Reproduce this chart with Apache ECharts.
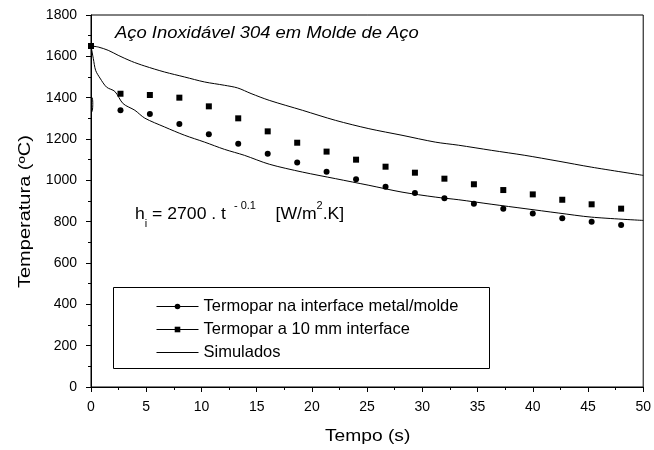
<!DOCTYPE html>
<html>
<head>
<meta charset="utf-8">
<script src="https://cdn.jsdelivr.net/npm/echarts@6/dist/echarts.min.js"></script>
<style>
  html, body { margin: 0; padding: 0; background: #fff; }
  #chart { width: 654px; height: 450px; }
</style>
</head>
<body>
<div id="chart"></div>
<script>
// measured points (s, ºC)
const measTime = [0, 2.67, 5.33, 8.0, 10.67, 13.33, 16.0, 18.67, 21.33, 24.0, 26.67, 29.33, 32.0, 34.67, 37.33, 40.0, 42.67, 45.33, 48.0]
const tempInterface = [1650, 1339, 1321, 1272, 1223, 1177, 1129, 1086, 1042, 1005, 969, 939, 913, 887, 863, 839, 816, 800, 784]
const temp10mm = [1650, 1419, 1413, 1400, 1358, 1300, 1237, 1182, 1139, 1100, 1066, 1037, 1008, 981, 953, 932, 906, 884, 863]

// simulated curves
const simTimeUpper = [0, 0.66, 1.56, 2.46, 3.66, 4.87, 6.67, 8.48, 10.28, 12.08, 13.28, 14.49, 16.14, 19.14, 22.15, 25.16, 28.16, 31.17, 33.27, 36.28, 39.28, 42.29, 45.29, 50]
const simTempUpper = [1650, 1645, 1629, 1605, 1576, 1553, 1524, 1500, 1476, 1460, 1447, 1420, 1387, 1339, 1290, 1250, 1218, 1185, 1170, 1145, 1121, 1093, 1064, 1024]
const simTimeLower = [0, 0.21, 0.42, 0.81, 1.41, 2.16, 2.91, 3.97, 4.87, 6.67, 8.48, 10.28, 12.08, 13.89, 16.14, 19.14, 22.15, 25.16, 28.16, 31.17, 33.3, 36.3, 39.3, 42.3, 45.3, 50]
const simTempLower = [1650, 1589, 1532, 1495, 1451, 1430, 1371, 1339, 1301, 1258, 1218, 1185, 1150, 1121, 1078, 1040, 1008, 976, 943, 919, 906, 884, 863, 842, 822, 806]
const simTimeStub = [0.12, 0.16, 0.14, 0.06]
const simTempStub = [1400, 1375, 1345, 1330]

const xTicks = { min: 0, max: 50, step: 5 }
const yTicks = { min: 0, max: 1800, step: 200 }

const font = 'Liberation Sans, Arial, sans-serif'
const pairs = (xs, ys) => xs.map((x, i) => [x, ys[i]])

const chart = echarts.init(document.getElementById('chart'))

const option = {
  animation: false,
  backgroundColor: '#fff',
  grid: {
    left: 91,
    right: 9,
    top: 15,
    bottom: 63,
    show: true,
    borderColor: '#000',
    borderWidth: 1
  },
  xAxis: {
    type: 'value',
    min: xTicks.min,
    max: xTicks.max,
    interval: xTicks.step,
    axisLine: { lineStyle: { color: '#000', width: 1 } },
    axisTick: { length: 5, lineStyle: { color: '#000' } },
    minorTick: { show: true, splitNumber: 2, length: 3, lineStyle: { color: '#000' } },
    axisLabel: { color: '#000', fontSize: 14, fontFamily: font, margin: 13 },
    splitLine: { show: false }
  },
  yAxis: {
    type: 'value',
    min: yTicks.min,
    max: yTicks.max,
    interval: yTicks.step,
    axisLine: { show: true, lineStyle: { color: '#000', width: 1 } },
    axisTick: { show: true, length: 5, lineStyle: { color: '#000' } },
    minorTick: { show: true, splitNumber: 2, length: 3, lineStyle: { color: '#000' } },
    axisLabel: { color: '#000', fontSize: 14, fontFamily: font, margin: 14, formatter: v => String(v) },
    splitLine: { show: false }
  },
  legend: {
    orient: 'vertical',
    left: 151,
    top: 293,
    itemWidth: 42,
    itemHeight: 7,
    itemGap: 6,
    textStyle: { color: '#000', fontSize: 16.5, fontFamily: font },
    lineStyle: { opacity: 1, color: '#000', width: 1 },
    data: [
      'Termopar na interface metal/molde',
      'Termopar a 10 mm interface',
      { name: 'Simulados', icon: 'path://M0,0L42,0L42,1L0,1Z' }
    ]
  },
  graphic: [
    {
      type: 'rect',
      z: -1,
      shape: { x: 113.5, y: 287.5, width: 376, height: 81 },
      style: { fill: '#fff', stroke: '#000', lineWidth: 1 }
    },
    {
      type: 'text',
      x: 115,
      y: 26,
      scaleX: 1.15,
      style: {
        text: 'Aço Inoxidável 304 em Molde de Aço',
        font: 'italic 16px ' + font,
        fill: '#000'
      }
    },
    {
      type: 'text',
      x: 135,
      y: 201,
      scaleX: 1.1,
      style: {
        text: '{m|h}{sub|i}{m| = 2700 . t }{sup| - 0.1}{m|    [W/m}{sup|2}{m|.K]}',
        fill: '#000',
        rich: {
          m: { fontSize: 16, fontFamily: font, color: '#000', lineHeight: 28, verticalAlign: 'middle' },
          sub: { fontSize: 10, fontFamily: font, color: '#000', lineHeight: 28, verticalAlign: 'bottom' },
          sup: { fontSize: 10, fontFamily: font, color: '#000', lineHeight: 28, verticalAlign: 'top' }
        }
      }
    },
    {
      type: 'text',
      x: 18,
      y: 288,
      rotation: Math.PI / 2,
      scaleX: 1.25,
      style: {
        text: 'Temperatura (ºC)',
        font: '16px ' + font,
        fill: '#000'
      }
    },
    {
      type: 'text',
      x: 325,
      y: 429,
      scaleX: 1.2,
      style: {
        text: 'Tempo (s)',
        font: '16px ' + font,
        fill: '#000'
      }
    }
  ],
  series: [
    {
      name: 'Termopar na interface metal/molde',
      type: 'line',
      data: pairs(measTime, tempInterface),
      symbol: 'circle',
      symbolSize: 6,
      itemStyle: { color: '#000' },
      lineStyle: { opacity: 0 },
      z: 3
    },
    {
      name: 'Termopar a 10 mm interface',
      type: 'line',
      data: pairs(measTime, temp10mm),
      symbol: 'rect',
      symbolSize: 6,
      itemStyle: { color: '#000' },
      lineStyle: { opacity: 0 },
      z: 3
    },
    {
      name: 'Simulados',
      type: 'line',
      data: pairs(simTimeUpper, simTempUpper),
      symbol: 'none',
      smooth: 0.3,
      lineStyle: { color: '#000', width: 1 },
      itemStyle: { color: '#000' }
    },
    {
      name: 'Simulados',
      type: 'line',
      data: pairs(simTimeLower, simTempLower),
      symbol: 'none',
      smooth: 0.3,
      lineStyle: { color: '#000', width: 1 },
      itemStyle: { color: '#000' }
    },
    {
      name: 'Simulados',
      type: 'line',
      data: pairs(simTimeStub, simTempStub),
      symbol: 'none',
      smooth: true,
      lineStyle: { color: '#000', width: 1 },
      itemStyle: { color: '#000' }
    }
  ]
}

chart.setOption(option)
</script>
</body>
</html>
